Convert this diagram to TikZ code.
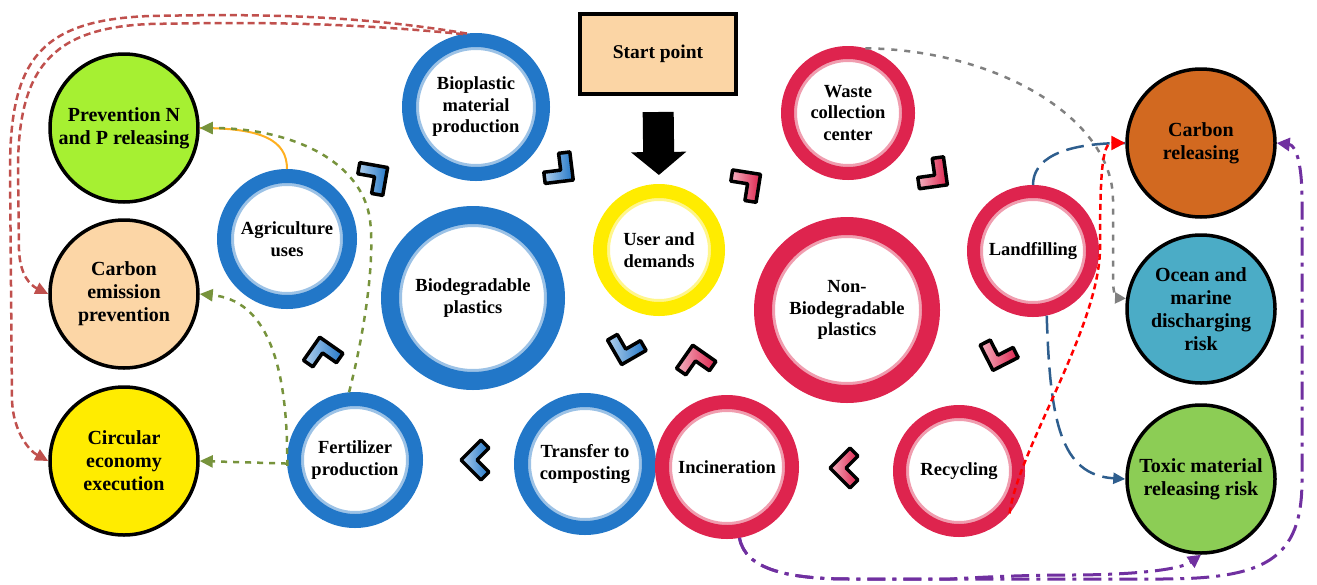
\documentclass[tikz,border=0pt]{standalone}
\usepackage{fontspec}
\setmainfont{Liberation Serif}
\usetikzlibrary{arrows.meta,calc}
\definecolor{ringblue}{RGB}{34,119,200}
\definecolor{ringred}{RGB}{222,36,78}
\definecolor{ringyel}{RGB}{255,236,0}
\definecolor{startfill}{RGB}{251,213,165}
\definecolor{prevfill}{RGB}{166,240,50}
\definecolor{cemitfill}{RGB}{252,214,166}
\definecolor{circfill}{RGB}{255,236,0}
\definecolor{crelfill}{RGB}{210,105,32}
\definecolor{oceanfill}{RGB}{75,172,198}
\definecolor{toxicfill}{RGB}{140,205,85}
\definecolor{linkred}{RGB}{192,80,77}
\definecolor{linkolive}{RGB}{119,147,60}
\definecolor{linkorange}{RGB}{255,176,32}
\definecolor{linkgray}{RGB}{128,128,128}
\definecolor{linkblue}{RGB}{46,94,142}
\definecolor{linkpurple}{RGB}{112,48,160}
\tikzset{ring/.style n args={3}{circle,minimum size=#1,line width=#2,draw=#3,fill=white,align=center,
    font=\bfseries\fontsize{18.5}{21.5}\selectfont,
    path picture={\draw[#3!45!white,line width=#2+6pt] (path picture bounding box.center) circle[radius=#1/2];}},
  outcome/.style={circle,draw=black,line width=3.5pt,minimum size=148pt,align=center,font=\bfseries\fontsize{20}{23}\selectfont},
  startbox/.style={draw,line width=4pt,fill=startfill,minimum width=156pt,minimum height=80pt,font=\bfseries\fontsize{19.5}{22}\selectfont},
  chev/.style={draw=black,line width=3.5pt,line join=round},
  redlink/.style={linkred,line width=2.5pt,dash pattern=on 7pt off 4pt,-{Triangle[length=13pt,width=12pt]}},
  olivelink/.style={linkolive,line width=2.5pt,dash pattern=on 6pt off 6pt,-{Triangle[length=13pt,width=12pt]}},
  orangelink/.style={linkorange,line width=2pt},
  graylink/.style={linkgray,line width=2.5pt,dash pattern=on 6pt off 7pt,-{Triangle[length=11pt,width=11pt]}},
  bluelink/.style={linkblue,line width=2.5pt,dash pattern=on 18pt off 8pt},
  firelink/.style={red,line width=2.5pt,dash pattern=on 6pt off 4pt,-{Triangle[length=14pt,width=14pt]}},
  purplink/.style={linkpurple,line width=3pt,dash pattern=on 18pt off 7pt on 4pt off 7pt,-{Triangle[length=13pt,width=13pt]}}}
\begin{document}
\begin{tikzpicture}[x=1pt,y=-1pt]
\useasboundingbox (0,0) rectangle (1317,584);
\node[startbox] (start) at (658,54) {Start point};
\node[ring={134pt}{14pt}{ringblue}] (bio) at (476,107) {Bioplastic\\material\\production};
\node[ring={126pt}{14pt}{ringblue}] (agri) at (287,239) {Agriculture\\uses};
\node[ring={166pt}{18pt}{ringblue}] (biod) at (473,298) {Biodegradable\\plastics};
\node[ring={122pt}{14pt}{ringblue}] (fert) at (355,460) {Fertilizer\\production};
\node[ring={128pt}{14pt}{ringblue}] (trans) at (585,464) {Transfer to\\composting};
\node[ring={118pt}{14pt}{ringyel}] (user) at (659,250) {User and\\demands};
\node[ring={121pt}{13pt}{ringred}] (waste) at (848,113) {Waste\\collection\\center};
\node[ring={168pt}{18pt}{ringred}] (nonbio) at (847,310) {Non-\\Biodegradable\\plastics};
\node[ring={119pt}{13pt}{ringred}] (land) at (1033,251) {Landfilling};
\node[ring={119pt}{13pt}{ringred}] (recyc) at (959,471) {Recycling};
\node[ring={130pt}{14pt}{ringred}] (incin) at (727,467) {Incineration};
\node[outcome,fill=prevfill] (prev) at (124,128) {Prevention N\\and P releasing};
\node[outcome,fill=cemitfill] (cemit) at (124,294) {Carbon\\emission\\prevention};
\node[outcome,fill=circfill] (circ) at (124,461) {Circular\\economy\\execution};
\node[outcome,fill=crelfill] (crel) at (1201,143) {Carbon\\releasing};
\node[outcome,fill=oceanfill] (ocean) at (1201,309) {Ocean and\\marine\\discharging\\risk};
\node[outcome,fill=toxicfill] (toxic) at (1201,479) {Toxic material\\releasing risk};
\draw[line width=31pt,-{Triangle[length=23pt,width=54pt]},shorten <=16pt,shorten >=9pt] (start.south) -- (user.north);
\foreach \cx/\cy/\ca/\cc in {563/172/-38/ringblue,377/175/35/ringblue,322/350/100/ringblue,474/460/180/ringblue,625/352/-105/ringblue,
    750/182/36/ringred,937/177/-37/ringred,997/358/-108/ringred,843/468/180/ringred,695/358/100/ringred}
  \shadedraw[chev,left color=\cc!35!white,right color=\cc,shift={(\cx,\cy)},rotate=\ca] (13,0) -- (-7,20) -- (-15,12) -- (-3,0) -- (-15,-12) -- (-7,-20) -- cycle;
\draw[redlink] (bio.97) .. controls (350,14) and (250,14) .. (150,16) .. controls (40,20) and (10,60) .. (10,170) -- (12,400) .. controls (13,430) and (28,450) .. (circ.west);
\draw[redlink] (bio.100) .. controls (340,22) and (250,22) .. (150,24) .. controls (50,28) and (18,70) .. (18,170) -- (19,250) .. controls (20,275) and (30,285) .. (cemit.west);
\draw[orangelink] (agri.north) .. controls (287,140) and (262,128) .. (prev.east);
\draw[olivelink] (fert.95) .. controls (365,330) and (375,260) .. (370,220) .. controls (362,160) and (290,128) .. (prev.east);
\draw[olivelink] (fert.185) .. controls (288,360) and (265,300) .. (cemit.east);
\draw[olivelink] (fert.183) -- (circ.east);
\draw[graylink] (waste.75) .. controls (998,50) and (1113,119) .. (1113,200) -- (1113,280) .. controls (1113,292) and (1116,298) .. (ocean.172);
\draw[bluelink] (land.north) .. controls (1033,160) and (1060,143) .. (crel.west);
\draw[bluelink,-{Triangle[length=12pt,width=11pt]}] (land.282) .. controls (1050,420) and (1060,475) .. (toxic.west);
\draw[firelink] (recyc.-40) .. controls (1018,450) and (1098,330) .. (1100,250) .. controls (1100,175) and (1102,143) .. (crel.west);
\draw[purplink] (incin.-80) .. controls (745,570) and (790,579) .. (850,579) -- (1160,579) .. controls (1265,579) and (1302,560) .. (1302,480) -- (1302,200) .. controls (1302,160) and (1295,145) .. (crel.east);
\draw[purplink] (incin.-80) .. controls (745,570) and (790,579) .. (850,579) -- (950,579) .. controls (1000,576) and (1040,575) .. (1070,575) .. controls (1130,575) and (1180,570) .. (toxic.south);
\end{tikzpicture}
\end{document}
